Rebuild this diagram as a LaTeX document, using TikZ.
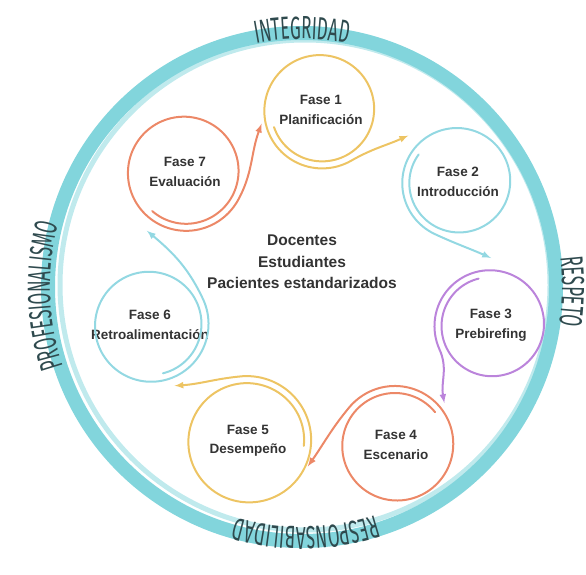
\documentclass[tikz,border=0pt]{standalone}
\usepackage{fontspec}
\setmainfont{Liberation Sans}
\newfontfamily\ringfam[FakeStretch=0.53]{Fira Sans}
\usepackage{tikz}
\usetikzlibrary{decorations.text}

\definecolor{ringteal}{HTML}{82D5DC}
\definecolor{lightteal}{HTML}{93D8E2}
\definecolor{gold}{HTML}{EDC463}
\definecolor{salmon}{HTML}{EC8867}
\definecolor{lilac}{HTML}{BB84DB}
\definecolor{ink}{HTML}{333333}
\definecolor{ringink}{HTML}{2F4A4E}

\newcommand\ringfont{\ringfam\fontsize{32}{32}\selectfont}
% spiral round a phase: radius, exit angle
\newcommand\phasespiral[2]{plot[domain={(#2)-460}:#2, samples=140, smooth] (\x:{(#1-5+9*(\x-(#2)+460)/460)*1pt})}

\begin{document}
\begin{tikzpicture}[
        x=1pt, y=-1pt,
        ring/.style={ringteal, line width=14pt},
        value/.style={decorate, decoration={text along path, text={|\ringfont|#1},
            text align=center, text color=ringink}},
        phase/.style={circle, minimum size=110pt, inner sep=0pt, outer sep=6pt,
            align=center, text=ink, font=\fontsize{13.5}{19.5}\selectfont\bfseries},
        core/.style={align=center, text=ink, font=\fontsize{15.5}{21.5}\selectfont\bfseries},
        spiral/.style={line width=2pt, line cap=round},
        flow/.style={-latex}
        ]
    \useasboundingbox (0,0) rectangle (586,575);

    % Outer ring with the values
    \coordinate (hub) at (302,287);
    \draw[ring] (hub) circle[radius=254pt];
    \draw[ringteal, line width=5pt, opacity=.5] ([shift={(3,-2)}]hub) circle[radius=245pt];

    \path[value={INTEGRIDAD}] ([shift={(130:248pt)}]hub) arc[start angle=130, end angle=50, radius=248pt];
    \path[value={RESPETO}] ([shift={(30:260pt)}]hub) arc[start angle=30, end angle=-32, radius=260pt];
    \path[value={RESPONSABILIDAD}] ([shift={(316:240pt)}]hub) arc[start angle=316, end angle=226, radius=240pt];
    \path[value={PROFESIONALISMO}] ([shift={(232:252pt)}]hub) arc[start angle=232, end angle=132, radius=252pt];

    % Phases
    \node[phase] (f1) at (321,110) {Fase 1\\Planificación};
    \node[phase, outer sep=13pt] (f2) at (458,182) {Fase 2\\Introducción};
    \node[phase, outer sep=12pt] (f3) at (491,325) {Fase 3\\Prebirefing};
    \node[phase, outer sep=9pt] (f4) at (396,445) {Fase 4\\Escenario};
    \node[phase, outer sep=10pt] (f5) at (248,441) {Fase 5\\Desempeño};
    \node[phase, outer sep=5pt] (f6) at (150,325) {Fase 6\\Retroalimentación};
    \node[phase, outer sep=15pt] (f7) at (185,172) {Fase 7\\Evaluación};

    \node[core] (team) at (302,262) {Docentes\\Estudiantes\\Pacientes estandarizados};

    % Spirals leading to the next phase
    \draw[spiral, gold, flow, shift={(f1.center)}] \phasespiral{55}{300} to[out=30, in=204] (f2.137);
    \draw[spiral, lightteal, flow, shift={(f2.center)}] \phasespiral{53}{245} to[out=335, in=156] (f3.90);
    \draw[spiral, lilac, flow, shift={(f3.center)}] \phasespiral{53}{205} to[out=295, in=100] (f4.41);
    \draw[spiral, salmon, flow, shift={(f4.center)}] \phasespiral{56}{140} to[out=230, in=55] (f5.-23);
    \draw[spiral, gold, flow, shift={(f5.center)}] \phasespiral{61}{95} to[out=185, in=4] (f6.-68);
    \draw[spiral, lightteal, flow, shift={(f6.center)}] \phasespiral{55}{25} to[out=115, in=-40] (f7.237);
    \draw[spiral, salmon, flow, shift={(f7.center)}] \phasespiral{56}{-30} to[out=60, in=250] (f1.193);
\end{tikzpicture}
\end{document}
